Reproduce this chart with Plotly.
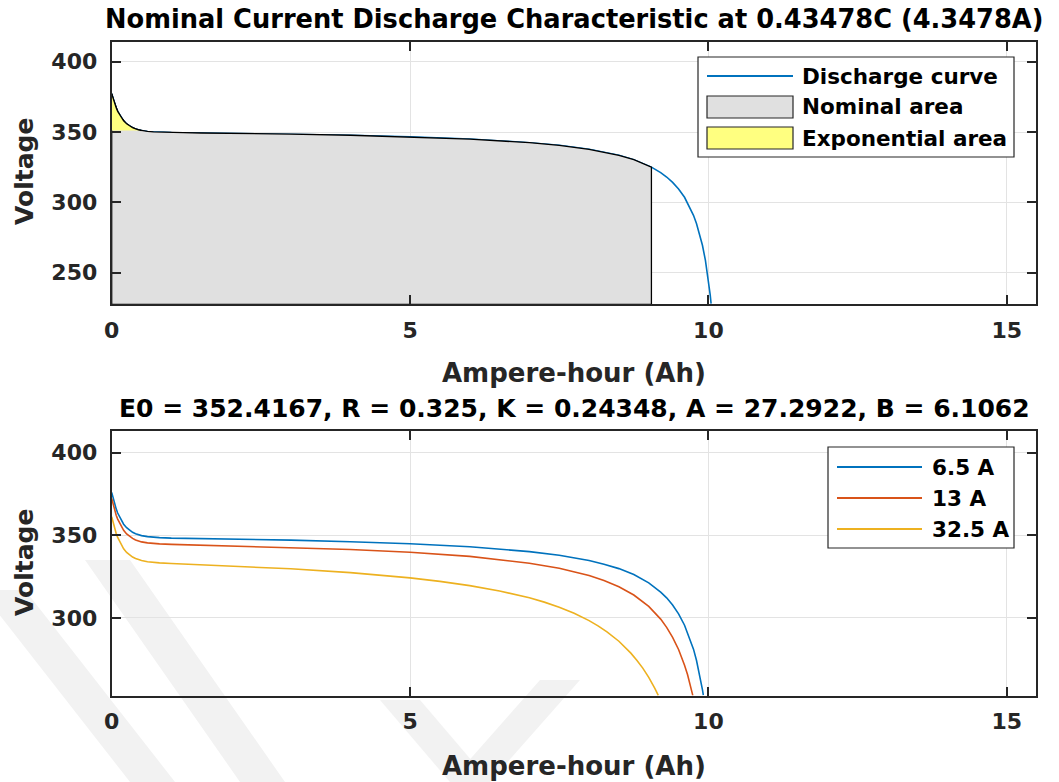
import plotly.graph_objects as go

# ---- Top panel: discharge at the nominal current (0.43478C, 4.3478 A) ----
ah_nominal = [0, 0.025, 0.05, 0.075, 0.1, 0.15, 0.2, 0.25, 0.3, 0.35, 0.4, 0.45, 0.5,
              0.6, 0.7, 0.8, 1.0, 1.2, 1.5, 2, 3, 4, 5, 6, 7, 7.5, 8, 8.25, 8.5, 8.75,
              9.0, 9.045, 9.2, 9.3, 9.4, 9.5, 9.6, 9.7, 9.75, 9.8, 9.85, 9.9, 9.95,
              10.0, 10.03, 10.045]
v_nominal = [377.2, 373.4, 370.1, 367.2, 364.7, 360.8, 357.9, 355.8, 354.2, 353.0, 352.2,
             351.5, 351.0, 350.4, 350.1, 349.9, 349.6, 349.5, 349.3, 349.1, 348.5, 347.7,
             346.6, 345.0, 342.4, 340.5, 337.7, 335.8, 333.4, 330.3, 325.9, 325.0, 321.1,
             318.0, 314.2, 309.5, 303.6, 295.7, 290.8, 285.0, 278.1, 269.5, 258.7, 244.8,
             234.2, 228.0]
q_nom = 9.045   # end of the nominal zone (Ah)
q_exp = 0.5     # end of the exponential zone (Ah)
v_exp = 351.0   # voltage at the end of the exponential zone (V)

# ---- Bottom panel: discharge curves at three currents ----
currents = ["6.5 A", "13 A", "32.5 A"]
ah_6a5 = [0, 0.025, 0.05, 0.075, 0.1, 0.15, 0.2, 0.25, 0.3, 0.35, 0.4, 0.5, 0.6, 0.7, 0.8,
          1.0, 1.2, 1.5, 2, 3, 4, 5, 6, 7, 7.5, 8, 8.25, 8.5, 8.75, 9, 9.2, 9.3, 9.4, 9.5,
          9.6, 9.7, 9.75, 9.8, 9.85, 9.88, 9.9, 9.915]
v_6a5 = [376.0, 372.1, 368.8, 366.0, 363.5, 359.6, 356.7, 354.6, 353.0, 351.8, 350.9, 349.8,
         349.2, 348.8, 348.6, 348.3, 348.2, 348.0, 347.7, 347.1, 346.1, 344.9, 343.1, 340.1,
         337.9, 334.7, 332.5, 329.8, 326.2, 321.2, 315.6, 312.1, 307.7, 302.4, 295.5, 286.6,
         281.0, 274.3, 266.3, 260.7, 256.5, 253.1]
ah_13 = [0, 0.025, 0.05, 0.075, 0.1, 0.15, 0.2, 0.25, 0.3, 0.35, 0.4, 0.5, 0.6, 0.7, 0.8,
         1.0, 1.2, 1.5, 2, 3, 4, 5, 6, 7, 7.5, 8, 8.25, 8.5, 8.75, 9, 9.2, 9.3, 9.4, 9.5,
         9.55, 9.6, 9.65, 9.7, 9.738]
v_13 = [372.3, 368.4, 365.1, 362.2, 359.8, 355.9, 353.0, 350.8, 349.2, 348.1, 347.2, 346.0,
        345.4, 345.0, 344.8, 344.5, 344.3, 344.1, 343.7, 342.7, 341.4, 339.7, 337.2, 333.1,
        330.0, 325.6, 322.6, 318.8, 313.8, 306.9, 299.2, 294.2, 288.2, 280.8, 276.3, 271.3,
        265.6, 258.9, 253.0]
ah_32a5 = [0, 0.025, 0.05, 0.075, 0.1, 0.15, 0.2, 0.25, 0.3, 0.35, 0.4, 0.5, 0.6, 0.7, 0.8,
           1.0, 1.2, 1.5, 2, 3, 4, 5, 5.5, 6, 6.5, 7, 7.25, 7.5, 7.75, 8, 8.15, 8.3, 8.5,
           8.7, 8.8, 8.9, 9.0, 9.05, 9.1, 9.16]
v_32a5 = [361.2, 357.4, 354.0, 351.1, 348.7, 344.7, 341.8, 339.6, 338.0, 336.8, 335.9, 334.7,
          334.0, 333.6, 333.3, 332.9, 332.6, 332.2, 331.4, 329.7, 327.4, 324.2, 322.1, 319.5,
          316.3, 312.1, 309.5, 306.4, 302.7, 298.3, 295.1, 291.5, 285.8, 278.6, 274.3, 269.5,
          263.9, 260.8, 257.4, 253.0]

x_ticks = [0, 5, 10, 15]
y_ticks_top = [250, 300, 350, 400]
y_ticks_bottom = [300, 350, 400]
x_range = [0, 15.49]
y_range_top = [227.5, 414.0]
y_range_bottom = [252.8, 413.2]

BLUE, RED, GOLD = "#0072BD", "#D95319", "#EDB120"
GREY_FILL, YELLOW_FILL = "#E0E0E0", "#FFFF80"
INK = "#262626"
FONT = "DejaVu Sans"
W, H = 1059, 782


def px(xp):
    return xp / W


def py(yp):
    return 1 - yp / H


fig = go.Figure()

# discharge curve (drawn first; the area outlines sit on top of it)
fig.add_trace(go.Scatter(x=ah_nominal, y=v_nominal, mode="lines",
                         line=dict(color=BLUE, width=1.6),
                         xaxis="x", yaxis="y", showlegend=False, name="Discharge curve"))

# nominal area: under the curve from 0 to q_nom
n_nom = sum(1 for a in ah_nominal if a <= q_nom)
nom_x = [0] + ah_nominal[:n_nom] + [q_nom, 0]
nom_y = [y_range_top[0]] + v_nominal[:n_nom] + [y_range_top[0], y_range_top[0]]
fig.add_trace(go.Scatter(x=nom_x, y=nom_y, mode="lines", fill="toself",
                         fillcolor=GREY_FILL, line=dict(color="black", width=1.3),
                         xaxis="x", yaxis="y", showlegend=False, name="Nominal area"))

# exponential area: between the curve and v_exp from 0 to q_exp
n_exp = sum(1 for a in ah_nominal if a <= q_exp)
exp_x = ah_nominal[:n_exp] + [q_exp, 0, 0]
exp_y = v_nominal[:n_exp] + [v_exp, v_exp, v_nominal[0]]
fig.add_trace(go.Scatter(x=exp_x, y=exp_y, mode="lines", fill="toself",
                         fillcolor=YELLOW_FILL, line=dict(color="rgba(0,0,0,0)", width=0),
                         xaxis="x", yaxis="y", showlegend=False, name="Exponential area"))
# curve outline over the exponential area
fig.add_trace(go.Scatter(x=ah_nominal[:n_exp], y=v_nominal[:n_exp], mode="lines",
                         line=dict(color="black", width=1.3),
                         xaxis="x", yaxis="y", showlegend=False, hoverinfo="skip"))

for xs, ys, col, name in [(ah_6a5, v_6a5, BLUE, currents[0]),
                          (ah_13, v_13, RED, currents[1]),
                          (ah_32a5, v_32a5, GOLD, currents[2])]:
    fig.add_trace(go.Scatter(x=xs, y=ys, mode="lines", line=dict(color=col, width=1.6),
                             xaxis="x2", yaxis="y2", showlegend=False, name=name))

tickfont = dict(family=FONT, size=22, color=INK, weight="bold")
axis_common = dict(showline=True, linecolor=INK, linewidth=2, mirror="ticks",
                   ticks="inside", ticklen=9, tickwidth=2, tickcolor=INK,
                   showgrid=True, gridcolor="#E3E3E3", gridwidth=1, zeroline=False,
                   tickfont=tickfont, fixedrange=True, automargin=False)

top_dom = [py(304.3), py(42)]
bot_dom = [py(695.7), py(431)]
x_dom = [px(111.7), px(1036)]

fig.update_layout(
    width=W, height=H,
    margin=dict(l=0, r=0, t=0, b=0, autoexpand=False),
    paper_bgcolor="white", plot_bgcolor="rgba(0,0,0,0)",
    xaxis=dict(domain=x_dom, range=x_range, tickvals=x_ticks, anchor="y",
               ticklabelstandoff=5, **axis_common),
    yaxis=dict(domain=top_dom, range=y_range_top, tickvals=y_ticks_top, anchor="x",
               ticklabelstandoff=8, **axis_common),
    xaxis2=dict(domain=x_dom, range=x_range, tickvals=x_ticks, anchor="y2",
                ticklabelstandoff=5, **axis_common),
    yaxis2=dict(domain=bot_dom, range=y_range_bottom, tickvals=y_ticks_bottom, anchor="x2",
                ticklabelstandoff=8, **axis_common),
    showlegend=False,
)

annotations = []


def text(x, y, s, size, color="black", xanchor="center", angle=0):
    annotations.append(dict(x=px(x), y=py(y), xref="paper", yref="paper", text=s,
                            showarrow=False, xanchor=xanchor, yanchor="middle",
                            textangle=angle,
                            font=dict(family=FONT, size=size, color=color, weight="bold")))


text(574, 19, "Nominal Current Discharge Characteristic at 0.43478C (4.3478A)", 25.7)
text(574, 409, "E0 = 352.4167, R = 0.325, K = 0.24348, A = 27.2922, B = 6.1062", 25)
text(574, 373, "Ampere-hour (Ah)", 26, INK)
text(574, 766, "Ampere-hour (Ah)", 26, INK)
text(24, 172, "Voltage", 25, INK, angle=-90)
text(24, 563, "Voltage", 25, INK, angle=-90)

shapes = []


def band(points):
    # faint background band of the page emblem, drawn under everything
    path = "M" + "L".join(f"{px(x)},{py(y)}" for x, y in points) + "Z"
    shapes.append(dict(type="path", xref="paper", yref="paper", path=path,
                       fillcolor="#F2F2F2", line=dict(width=0), layer="below"))


band([(-20, 590), (25, 590), (175, 782), (130, 782)])
band([(85, 560), (130, 560), (285, 782), (240, 782)])
band([(380, 700), (420, 700), (490, 782), (450, 782)])
band([(450, 782), (490, 782), (580, 680), (540, 680)])


def rect(x0, y0, x1, y1, fill, line_color, lw):
    shapes.append(dict(type="rect", xref="paper", yref="paper", x0=px(x0), x1=px(x1),
                       y0=py(y1), y1=py(y0), fillcolor=fill,
                       line=dict(color=line_color, width=lw), layer="above"))


def seg(x0, y0, x1, y1, color, lw):
    shapes.append(dict(type="line", xref="paper", yref="paper", x0=px(x0), x1=px(x1),
                       y0=py(y0), y1=py(y1), line=dict(color=color, width=lw),
                       layer="above"))


# legend of the top panel
rect(698, 57, 1014, 157, "white", INK, 1.2)
seg(707, 76, 793, 76, BLUE, 2)
rect(707, 96, 793, 118, GREY_FILL, INK, 1.2)
rect(707, 127, 793, 149, YELLOW_FILL, INK, 1.2)
text(800, 76, "Discharge curve", 21.5, xanchor="left")
text(800, 107, "Nominal area", 21.5, xanchor="left")
text(800, 138, "Exponential area", 21.5, xanchor="left")

# legend of the bottom panel
rect(828, 447, 1014, 548, "white", INK, 1.2)
for yy, col, name in [(467, BLUE, currents[0]), (498, RED, currents[1]),
                      (529, GOLD, currents[2])]:
    seg(837, yy, 922, yy, col, 2)
    text(930, yy, name, 21.5, xanchor="left")

fig.update_layout(annotations=annotations, shapes=shapes)
fig.write_html("out.html")
